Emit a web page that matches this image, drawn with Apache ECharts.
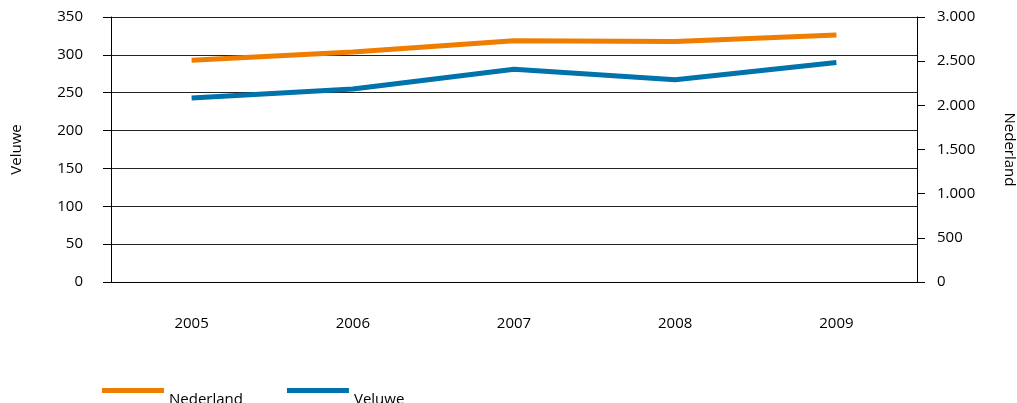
<!DOCTYPE html>
<html>
<head>
<meta charset="utf-8">
<script src="https://cdn.jsdelivr.net/npm/echarts@6/dist/echarts.min.js"></script>
<style>html,body{margin:0;padding:0;background:#fff}#c{width:1017px;height:403px}</style>
</head>
<body>
<div id="c"></div>
<script>
const categories = ['2005', '2006', '2007', '2008', '2009'];
const nederland = [2510, 2605, 2732, 2722, 2796];
const veluwe = [243, 255, 281, 267, 290];
const leftTicks = [0, 50, 100, 150, 200, 250, 300, 350];
const rightTicks = ['0', '500', '1.000', '1.500', '2.000', '2.500', '3.000'];

const FONT = 'Open Sans';
const FS = 15;
const chart = echarts.init(document.getElementById('c'));
chart.setOption({
  animation: false,
  textStyle: { fontFamily: FONT },
  grid: { left: 111, right: 100, top: 17, bottom: 121, containLabel: false, outerBoundsMode: 'none' },
  legend: {
    left: 102, top: 388, padding: 0,
    icon: 'path://M0,0H62V5H0Z M0,23L0,23', itemWidth: 62, itemHeight: 23, itemGap: 44,
    textStyle: { fontFamily: FONT, fontSize: FS, color: '#000' },
    data: ['Nederland', 'Veluwe']
  },
  xAxis: {
    type: 'category', data: categories, boundaryGap: true,
    axisLine: { lineStyle: { color: '#000', width: 1 } },
    axisTick: { show: false },
    axisLabel: { margin: 34, fontFamily: FONT, fontSize: FS, color: '#000' }
  },
  yAxis: [
    {
      type: 'value', min: 0, max: 350, interval: 50,
      name: 'Veluwe', nameLocation: 'middle', nameGap: 87, nameRotate: 90,
      nameTextStyle: { fontFamily: FONT, fontSize: FS, color: '#000' },
      axisLine: { show: true, lineStyle: { color: '#000' } },
      axisTick: { show: true, length: 8, lineStyle: { color: '#000' } },
      axisLabel: { margin: 28, fontFamily: FONT, fontSize: FS, color: '#000',
        formatter: v => String(leftTicks[Math.round(v / 50)]) },
      splitLine: { show: true, lineStyle: { color: '#222', width: 1 } }
    },
    {
      type: 'value', min: 0, max: 3000, interval: 500, position: 'right',
      name: 'Nederland', nameLocation: 'middle', nameGap: 85, nameRotate: -90,
      nameTextStyle: { fontFamily: FONT, fontSize: FS, color: '#000' },
      axisLine: { show: true, lineStyle: { color: '#000' } },
      axisTick: { show: true, length: 8, lineStyle: { color: '#000' } },
      axisLabel: { margin: 20, fontFamily: FONT, fontSize: FS, color: '#000',
        formatter: v => rightTicks[Math.round(v / 500)] },
      splitLine: { show: false }
    }
  ],
  series: [
    {
      name: 'Nederland', type: 'line', yAxisIndex: 1, data: nederland,
      symbol: 'none', lineStyle: { color: '#EE7D00', width: 5 },
      itemStyle: { color: '#EE7D00' }
    },
    {
      name: 'Veluwe', type: 'line', yAxisIndex: 0, data: veluwe,
      symbol: 'none', lineStyle: { color: '#0072AC', width: 5 },
      itemStyle: { color: '#0072AC' }
    }
  ]
});
</script>
</body>
</html>
